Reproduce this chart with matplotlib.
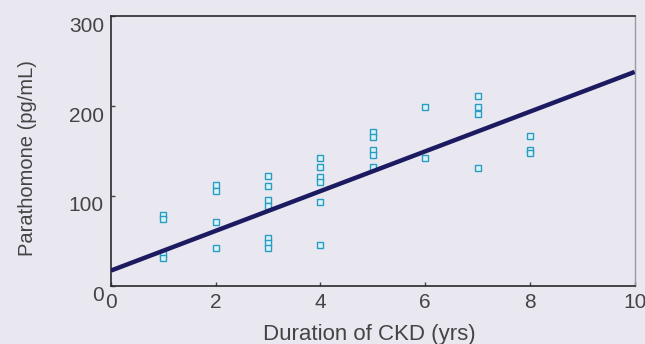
import numpy as np
import matplotlib.pyplot as plt
from matplotlib.transforms import ScaledTranslation

plt.rcParams['font.family'] = ['Liberation Sans', 'DejaVu Sans']

# duration of CKD (yrs) and parathormone (pg/mL)
years = [1, 1, 1, 1,
         2, 2, 2, 2,
         3, 3, 3, 3, 3, 3, 3,
         4, 4, 4, 4, 4, 4,
         5, 5, 5, 5, 5,
         6, 6,
         7, 7, 7, 7,
         8, 8, 8]
pth = [79, 74, 36, 31,
       112, 106, 71, 42,
       122, 111, 96, 89, 53, 48, 42,
       142, 132, 121, 116, 93, 46,
       171, 166, 151, 146, 132,
       199, 142,
       211, 199, 191, 131,
       167, 151, 148]
fit_x = [0, 10]
fit_y = [17, 238]

bg = '#e9e8f1'
fig = plt.figure(figsize=(6.45, 3.44), dpi=100, facecolor=bg)
ax = fig.add_axes([0.172, 0.169, 0.812, 0.784], facecolor=bg)

ax.plot(years, pth, 's', ms=4.5, mfc='#d9f2f8', mec='#2a9cc2', mew=1.0,
        linestyle='none', zorder=2)
ax.plot(fit_x, fit_y, color='#1c1a60', lw=3.2, solid_capstyle='butt', zorder=3)

ax.set_xlim(0, 10)
ax.set_ylim(0, 300)
ax.set_xticks([0, 2, 4, 6, 8, 10])
ax.set_yticks([0, 100, 200, 300])
ax.tick_params(direction='in', length=3, width=1, colors='#444444',
               labelsize=15)
ax.tick_params(axis='x', pad=5)
ax.tick_params(axis='y', pad=5)
# y tick labels sit a little below their ticks in the original
shift = ScaledTranslation(0, -0.08, fig.dpi_scale_trans)
for lab in ax.get_yticklabels():
    lab.set_transform(lab.get_transform() + shift)

ax.set_xlabel('Duration of CKD (yrs)', fontsize=16, color='#444444')
ax.set_ylabel('Parathomone (pg/mL)', fontsize=14.5, color='#444444')
ax.xaxis.set_label_coords(0.494, -0.14)
ax.yaxis.set_label_coords(-0.141, 0.474)

for s in ['left', 'bottom', 'top']:
    ax.spines[s].set_color('#2a2a2a')
    ax.spines[s].set_linewidth(1.2)
ax.spines['right'].set_color('#9a9aa0')
ax.spines['right'].set_linewidth(1.0)

fig.savefig('out.png', dpi=100, facecolor=bg)
